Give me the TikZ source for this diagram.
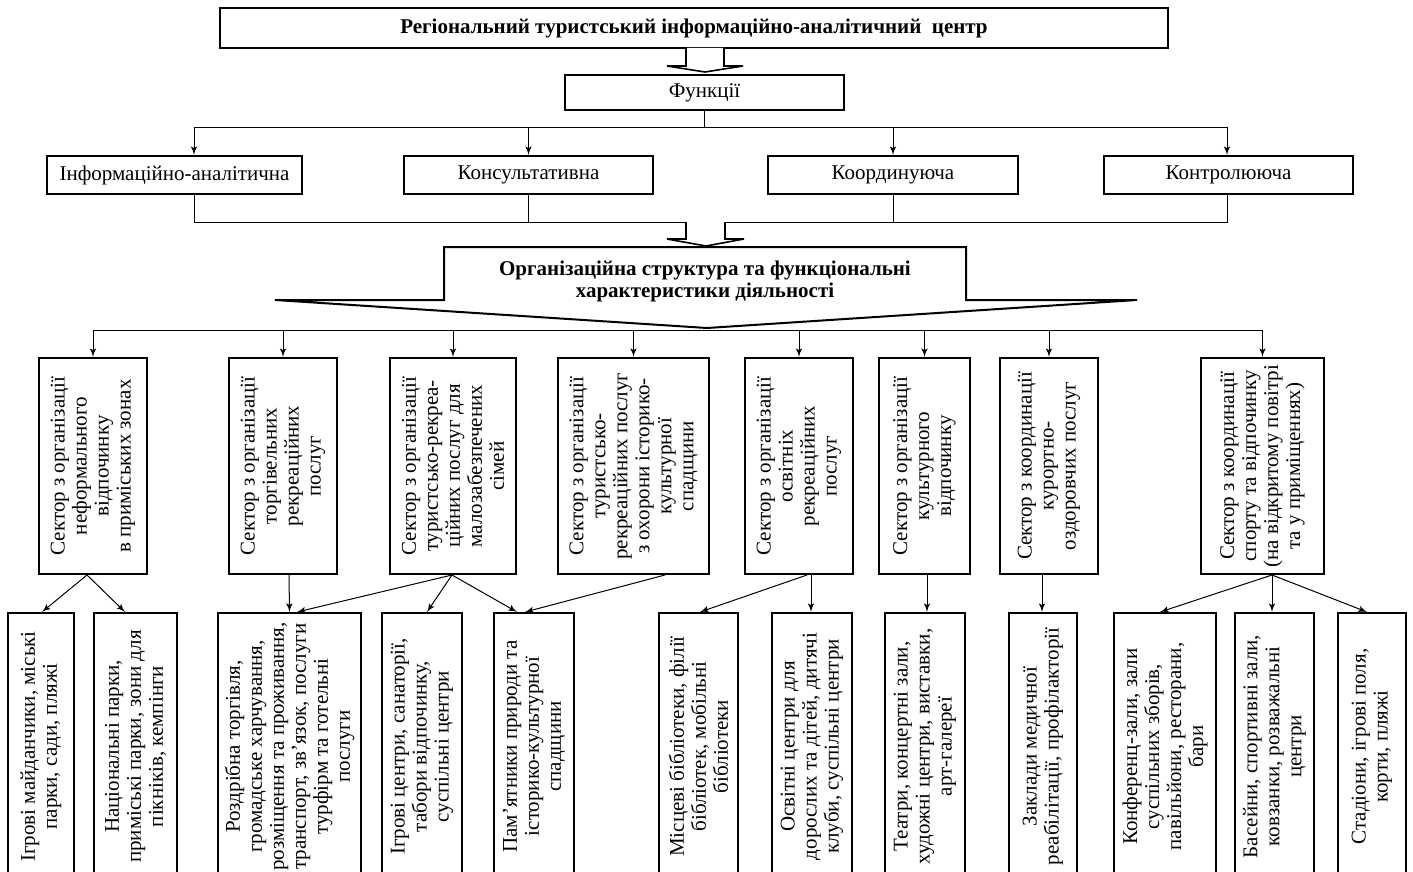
\documentclass[tikz,border=0pt]{standalone}
\usepackage{fontspec}
\setmainfont{Liberation Serif}
\usetikzlibrary{positioning, arrows}

\tikzset{
  box/.style={draw, line width=1pt, inner sep=1pt, align=center, font=\fontsize{10.5}{11}\selectfont},
  title/.style={box, font=\fontsize{10.5}{11}\selectfont\bfseries},
  vbox/.style={box, rotate=90},
  line/.style={line width=0.5pt},
  link/.style={line, -latex'},
  blockarrow/.style={line width=0.8pt, fill=white}
}

\begin{document}
\begin{tikzpicture}[x=0.5pt, y=-0.5pt]
\useasboundingbox (0,0) rectangle (1413,872);
\clip (0,0) rectangle (1413,872);

% centre and functions
\node[title, minimum width=474pt, minimum height=20pt] (centre) at (694,28) {Регіональний туристський інформаційно-аналітичний\ \ центр};
\draw[blockarrow] (686,48) -- (686,66) -- (667,66) -- (705,72) -- (743,66) -- (724,66) -- (724,48);
\node[box, minimum width=139.5pt, minimum height=17.5pt] (func) at (704.5,92.5) {Функції};

\node[box, minimum width=127.5pt, minimum height=19pt] (f1) at (174.5,175) {Інформаційно-аналітична};
\node[box, minimum width=124.5pt, minimum height=19pt] (f2) at (528.5,175) {Консультативна};
\node[box, minimum width=125pt, minimum height=19pt] (f3) at (893,175) {Координуюча};
\node[box, minimum width=124.5pt, minimum height=19pt] (f4) at (1228.5,175) {Контролююча};

\coordinate (bus1) at (704.5,128);
\draw[line] (func.south) -- (bus1);
\draw[link] (bus1) -| ([xshift=9.75pt]f1.north);
\draw[link] (bus1) -| (f2.north);
\draw[link] (bus1) -| (f3.north);
\draw[link] (bus1) -| ([xshift=-0.75pt]f4.north);

\coordinate (bus2) at (705,222);
\draw[line] ([xshift=9.75pt]f1.south) |- (bus2);
\draw[line] (f2.south) |- (bus2);
\draw[line] (f3.south) |- (bus2);
\draw[line] ([xshift=-0.75pt]f4.south) |- (bus2);
\draw[blockarrow] (686,222) -- (686,239) -- (667,239) -- (706,246) -- (744,239) -- (725,239) -- (725,222);

% organisational structure
\draw[line width=1pt] (444,247) -- (966,247) -- (966,300) -- (1137,300) -- (707,328) -- (275,300) -- (444,300) -- cycle;
\node[font=\fontsize{10.5}{11}\selectfont\bfseries, align=center] (org) at (705,281) {Організаційна структура та функціональні\\характеристики діяльності};
\coordinate (bus3) at (707,330);

% sectors
\node[vbox, minimum width=108pt, minimum height=54pt] (s1) at (93,466) {Сектор з організації\\неформального\\відпочинку\\в приміських зонах};
\node[vbox, minimum width=108pt, minimum height=54pt] (s2) at (283,466) {Сектор з організації\\торгівельних\\рекреаційних\\послуг};
\node[vbox, minimum width=108pt, minimum height=63pt] (s3) at (453,466) {Сектор з організації\\туристсько-рекреа-\\ційних послуг для\\малозабезпечених\\сімей};
\node[vbox, minimum width=108pt, minimum height=75.5pt] (s4) at (633.5,466) {Сектор з організації\\туристсько-\\рекреаційних послуг\\з охорони історико-\\культурної\\спадщини};
\node[vbox, minimum width=108pt, minimum height=54pt] (s5) at (799,466) {Сектор з організації\\освітніх\\рекреаційних\\послуг};
\node[vbox, minimum width=108pt, minimum height=45.5pt] (s6) at (924.5,466) {Сектор з організації\\культурного\\відпочинку};
\node[vbox, minimum width=108pt, minimum height=49pt] (s7) at (1049,466) {Сектор з координації\\курортно-\\оздоровчих послуг};
\node[vbox, minimum width=108pt, minimum height=61.5pt] (s8) at (1262.5,466) {Сектор з координації\\спорту та відпочинку\\(на відкритому повітрі\\та у приміщеннях)};

\foreach \s in {s1,s2,s3,s4,s5,s6,s7,s8}
  \draw[link] (bus3) -| (\s.east);

% objects
\node[vbox, minimum width=133.5pt, minimum height=33pt] (o1) at (41,746.5) {Ігрові майданчики, міські\\парки, сади, пляжі};
\node[vbox, minimum width=133.5pt, minimum height=41.5pt] (o2) at (135.5,746.5) {Національні парки,\\приміські парки, зони для\\пікніків, кемпінги};
\node[vbox, minimum width=133.5pt, minimum height=71.5pt] (o3) at (289.5,746.5) {Роздрібна торгівля,\\громадське харчування,\\розміщення та проживання,\\транспорт, зв’язок, послуги\\турфірм та готельні\\послуги};
\node[vbox, minimum width=133.5pt, minimum height=40pt] (o4) at (422,746.5) {Ігрові центри, санаторії,\\табори відпочинку,\\суспільні центри};
\node[vbox, minimum width=133.5pt, minimum height=40pt] (o5) at (534,746.5) {Пам’ятники природи та\\історико-культурної\\спадщини};
\node[vbox, minimum width=133.5pt, minimum height=39.5pt] (o6) at (698.5,746.5) {Місцеві бібліотеки, філії\\бібліотек, мобільні\\бібліотеки};
\node[vbox, minimum width=133.5pt, minimum height=40pt] (o7) at (812,746.5) {Освітні центри для\\дорослих та дітей, дитячі\\клуби, суспільні центри};
\node[vbox, minimum width=133.5pt, minimum height=40pt] (o8) at (925,746.5) {Театри, концертні зали,\\художні центри, виставки,\\арт-галереї};
\node[vbox, minimum width=133.5pt, minimum height=34pt] (o9) at (1043,746.5) {Заклади медичної\\реабілітації, профілакторії};
\node[vbox, minimum width=133.5pt, minimum height=51pt] (o10) at (1165,746.5) {Конференц-зали, зали\\суспільних зборів,\\павільйони, ресторани,\\бари};
\node[vbox, minimum width=133.5pt, minimum height=39.5pt] (o11) at (1274.5,746.5) {Басейни, спортивні зали,\\ковзанки, розважальні\\центри};
\node[vbox, minimum width=133.5pt, minimum height=34pt] (o12) at (1372,746.5) {Стадіони, ігрові поля,\\корти, пляжі};

\draw
([xshift=-3pt]s1.west) edge[link] ([xshift=0.5pt]o1.east)
([xshift=-3pt]s1.west) edge[link] ([xshift=-5.25pt]o2.east)
([xshift=3pt]s2.west) edge[link] (o3.east)
([xshift=-0.5pt]s3.west) edge[link] ([xshift=3.75pt]o3.east)
([xshift=-0.5pt]s3.west) edge[link] ([xshift=2.5pt]o4.east)
([xshift=-0.5pt]s3.west) edge[link] ([xshift=-8.5pt]o5.east)
([xshift=15.75pt]s4.west) edge[link] ([xshift=-4.5pt]o5.east)
([xshift=4pt]s5.west) edge[link] ([xshift=0.75pt]o6.east)
([xshift=6pt]s5.west) edge[link] ([xshift=-0.5pt]o7.east)
([xshift=1.25pt]s6.west) edge[link] ([xshift=1pt]o8.east)
([xshift=-3.5pt]s7.west) edge[link] ([xshift=-0.5pt]o9.east)
([xshift=4.75pt]s8.west) edge[link] ([xshift=-2.5pt]o10.east)
([xshift=4.75pt]s8.west) edge[link] ([xshift=-1.25pt]o11.east)
([xshift=4.75pt]s8.west) edge[link] ([xshift=-2.5pt]o12.east);
\end{tikzpicture}
\end{document}
